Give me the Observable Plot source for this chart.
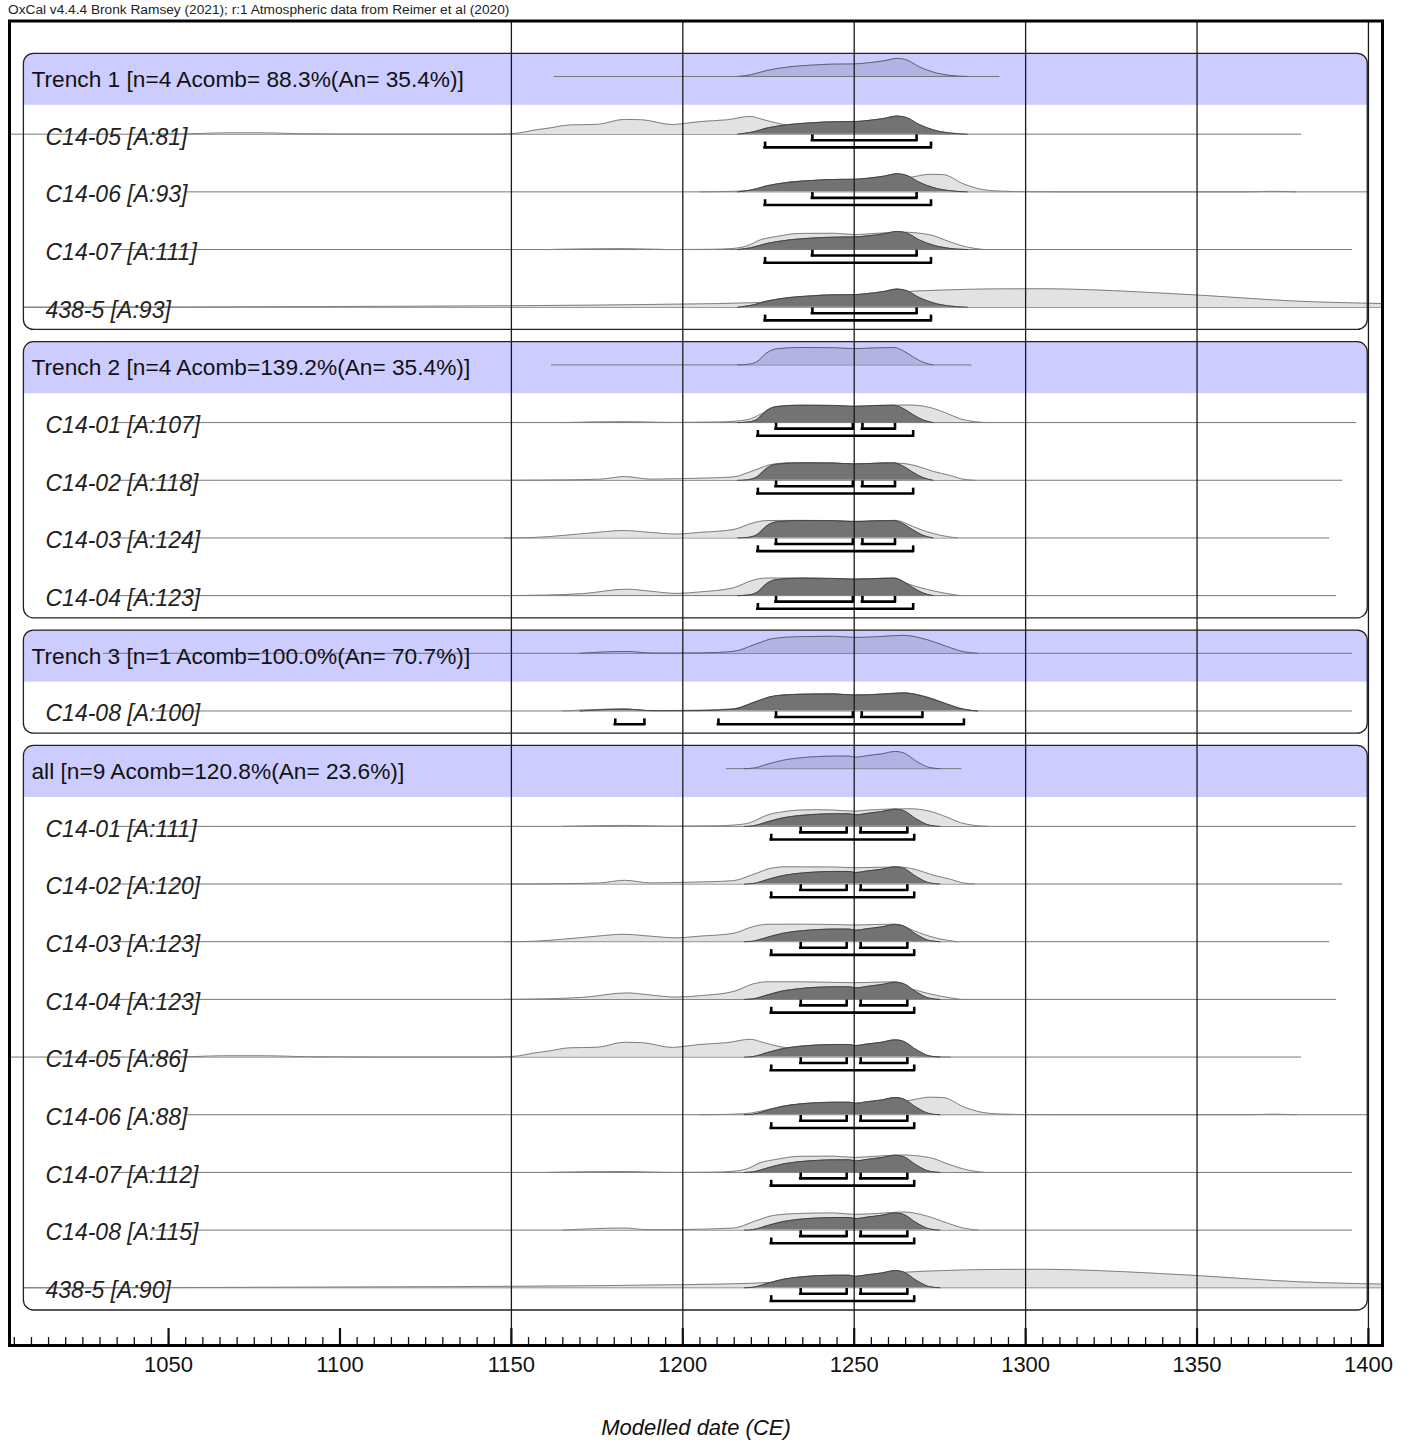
<!DOCTYPE html>
<html><head><meta charset="utf-8">
<script src="https://cdn.jsdelivr.net/npm/d3@7"></script>
<script src="https://cdn.jsdelivr.net/npm/@observablehq/plot@0.6"></script>
<style>
body{margin:0;background:#fff;font-family:"Liberation Sans",Arial,sans-serif;}
#title{height:18px;line-height:20px;font-size:13.7px;padding-left:8px;color:#222;white-space:nowrap;overflow:visible;}
</style></head><body>
<div id="title">OxCal v4.4.4 Bronk Ramsey (2021); r:1 Atmospheric data from Reimer et al (2020)</div>
<div id="chart"></div>
<script>
// ---------- DATA ----------
const rowLabels = [
  "Trench 1 [n=4 Acomb= 88.3%(An= 35.4%)]", "C14-05 [A:81]", "C14-06 [A:93]", "C14-07 [A:111]", "438-5 [A:93]",
  "Trench 2 [n=4 Acomb=139.2%(An= 35.4%)]", "C14-01 [A:107]", "C14-02 [A:118]", "C14-03 [A:124]", "C14-04 [A:123]",
  "Trench 3 [n=1 Acomb=100.0%(An= 70.7%)]", "C14-08 [A:100]",
  "all [n=9 Acomb=120.8%(An= 23.6%)]", "C14-01 [A:111]", "C14-02 [A:120]", "C14-03 [A:123]", "C14-04 [A:123]",
  "C14-05 [A:86]", "C14-06 [A:88]", "C14-07 [A:112]", "C14-08 [A:115]", "438-5 [A:90]"
];
const rowSamples = [null, "C14-05", "C14-06", "C14-07", "438-5", null, "C14-01", "C14-02", "C14-03", "C14-04",
  null, "C14-08", null, "C14-01", "C14-02", "C14-03", "C14-04", "C14-05", "C14-06", "C14-07", "C14-08", "438-5"];
const rowGroups = ["T1","T1","T1","T1","T1","T2","T2","T2","T2","T2","T3","T3",
  "all","all","all","all","all","all","all","all","all","all"];
// extent (years) of each row's distribution line
const rowStart = [1162.5, 1003.6, 1055, 1035, 1007.8, 1161.7, 1035, 1035, 1035, 1035, 1031, 1045,
  1212.7, 1035, 1035, 1035, 1035, 1003.6, 1055, 1035, 1045, 1007.8];
const rowEnd = [1292.5, 1380.5, 1400, 1395.4, 1404, 1284.3, 1396.5, 1392.5, 1388.7, 1390.7, 1395.4, 1395.4,
  1281.4, 1396.5, 1392.5, 1388.7, 1390.7, 1380.5, 1400, 1395.4, 1395.4, 1404];

const groupNames = ["T1", "T2", "T3", "all"];
const groupFirstRow = [0, 5, 10, 12];
const groupLastRow = [4, 9, 11, 21];

// unmodelled likelihoods [year, relative probability]
const lik01 = [[1165,0],[1183,0.05],[1196,0.01],[1210,0.03],[1215,0.07],[1219.7,0.2],[1224.5,0.6],[1229,0.78],[1234,0.88],[1239,0.9],[1244,0.88],[1250,0.82],[1254,0.88],[1260,0.93],[1266,0.95],[1272,0.82],[1277,0.5],[1281,0.2],[1285,0.05],[1289,0]];
const lik02 = [[1150,0],[1165,0.02],[1176,0.06],[1183,0.2],[1190.5,0.06],[1200,0.09],[1214.7,0.18],[1219.7,0.46],[1222.5,0.65],[1225,0.82],[1230,0.93],[1244,0.92],[1250,0.88],[1256,0.9],[1263,0.92],[1268,0.78],[1273,0.48],[1278,0.26],[1282,0.05],[1285,0]];
const lik03 = [[1148,0],[1156,0.02],[1166,0.15],[1175,0.3],[1182.6,0.4],[1190.5,0.3],[1198,0.21],[1205,0.3],[1214.7,0.45],[1220.6,0.82],[1224.5,0.94],[1235,0.95],[1244,0.93],[1250,0.9],[1256,0.93],[1262,0.95],[1267,0.63],[1271,0.35],[1275,0.15],[1280,0]];
const lik04 = [[1148,0],[1160,0.03],[1171,0.11],[1183.7,0.35],[1190.5,0.24],[1198,0.12],[1205,0.2],[1214.7,0.42],[1220.6,0.84],[1224.5,0.95],[1235,0.95],[1250,0.9],[1262,0.95],[1265.3,0.67],[1273,0.26],[1281,0]];
const lik05 = [[1045,0],[1058,0.03],[1066,0.07],[1078,0.07],[1090,0.02],[1110,0],[1146,0],[1152,0.06],[1156,0.2],[1161,0.33],[1167,0.5],[1175,0.53],[1183,0.8],[1188,0.78],[1197,0.52],[1200,0.57],[1205,0.68],[1213,0.78],[1219.7,0.96],[1223.4,0.79],[1228.4,0.56],[1234,0.43],[1244,0.46],[1250,0.46],[1258.5,0.39],[1263,0.2],[1269,0.06],[1278,0]];
const lik06 = [[1205,0],[1215,0.03],[1220,0.09],[1225,0.29],[1234,0.57],[1244,0.58],[1250,0.42],[1256,0.44],[1263,0.66],[1268,0.84],[1272,0.95],[1276,0.93],[1282,0.42],[1287,0.14],[1292.6,0.04],[1300,0.01],[1310,0],[1365,0],[1372,0.03],[1379,0]];
const lik07 = [[1160,0],[1183,0.05],[1196,0],[1208,0.01],[1214.7,0.06],[1218.8,0.2],[1222.6,0.52],[1227.5,0.71],[1234,0.87],[1244,0.88],[1250,0.81],[1256,0.87],[1264,0.94],[1272,0.8],[1278,0.41],[1283,0.13],[1288,0]];
const lik08 = [[1165,0],[1183,0.11],[1190,0.02],[1200,0.03],[1214.7,0.11],[1221.6,0.52],[1226.4,0.79],[1234,0.9],[1244,0.93],[1250,0.85],[1257,0.9],[1264.3,0.98],[1271.2,0.76],[1277,0.39],[1281.8,0.11],[1286,0]];
const lik438 = [[1007.8,0],[1050,0.01],[1100,0.04],[1150,0.08],[1200,0.17],[1220,0.24],[1230,0.33],[1244,0.5],[1255,0.68],[1263,0.82],[1276,0.93],[1290,0.99],[1305,1.0],[1321,0.93],[1336,0.8],[1351,0.65],[1365,0.48],[1380,0.32],[1392,0.25],[1404,0.2]];

// modelled posteriors per group
const postT1 = [[1216,0],[1220,0.1],[1224.6,0.33],[1231,0.52],[1238,0.62],[1244,0.67],[1250,0.68],[1254,0.74],[1259,0.86],[1262.5,0.98],[1265.4,0.89],[1269,0.52],[1273,0.24],[1278,0.06],[1283,0]];
const postT2 = [[1216,0],[1219,0.03],[1221.6,0.17],[1224.5,0.65],[1227.4,0.87],[1234,0.94],[1244,0.93],[1250,0.88],[1256,0.92],[1261.5,0.94],[1264.3,0.76],[1267,0.45],[1270,0.15],[1273,0]];
const postT3 = [[1170,0],[1183,0.1],[1192,0.01],[1205,0.02],[1214.7,0.1],[1221.6,0.52],[1226.4,0.8],[1234,0.9],[1244,0.92],[1250,0.86],[1257,0.9],[1264.3,0.97],[1271.2,0.74],[1277,0.37],[1281.8,0.09],[1286,0]];
const postAll = [[1218,0],[1220.6,0.03],[1224.5,0.23],[1229.3,0.46],[1234,0.58],[1239,0.65],[1244,0.68],[1248.5,0.68],[1250.5,0.62],[1253.6,0.7],[1258,0.8],[1262,0.93],[1264.3,0.86],[1268.3,0.38],[1272,0.06],[1275,0]];

// highest posterior density ranges (68.3% and 95.4%)
const range68T1 = [[1237.8,1268.2]];
const range95T1 = [[1224,1272.4]];
const range68T2 = [[1227.2,1249.6],[1252.4,1261.9]];
const range95T2 = [[1221.9,1267.2]];
const range68T3 = [[1227.2,1249.6],[1252.2,1269.9]];
const range95T3 = [[1180.3,1188.8],[1210.4,1282]];
const range68All = [[1234.4,1247.8],[1251.9,1265.5]];
const range95All = [[1225.8,1267.5]];

const tickLabels = [1050, 1100, 1150, 1200, 1250, 1300, 1350, 1400];
const gridYears = [1150, 1200, 1250, 1300, 1350, 1400];
const minorTicks = d3.range(1005, 1401, 5);

// ---------- BUILD TABLES ----------
const likelihoods = {"C14-01": lik01, "C14-02": lik02, "C14-03": lik03, "C14-04": lik04,
  "C14-05": lik05, "C14-06": lik06, "C14-07": lik07, "C14-08": lik08, "438-5": lik438};
const posteriors = {T1: postT1, T2: postT2, T3: postT3, all: postAll};
const ranges68 = {T1: range68T1, T2: range68T2, T3: range68T3, all: range68All};
const ranges95 = {T1: range95T1, T2: range95T2, T3: range95T3, all: range95All};

const rows = rowLabels.map((label, i) => ({i, label, sample: rowSamples[i], group: rowGroups[i], start: rowStart[i], end: rowEnd[i]}));
const sampleRows = rows.filter(r => r.sample);
const headerRows = rows.filter(r => !r.sample);
const groups = groupNames.map((g, k) => ({g, first: groupFirstRow[k], last: groupLastRow[k]}));

const lightPts = sampleRows.flatMap(r => likelihoods[r.sample].map(([year, p]) => ({row: r.i, year, p})));
const darkPts = sampleRows.flatMap(r => posteriors[r.group].map(([year, p]) => ({row: r.i, year, p})));
const headPts = headerRows.flatMap(r => posteriors[r.group].map(([year, p]) => ({row: r.i, year, p})));

const PX = 1 / 57.68;          // one pixel in row units
const H = 18.5 * PX;            // full height of a distribution
const OFF68 = 6 * PX, OFF95 = 13.2 * PX, TICK = 4 * PX;

const brackets = sampleRows.flatMap(r => [
  ...ranges68[r.group].map(([a, b]) => ({y: r.i + OFF68, a, b})),
  ...ranges95[r.group].map(([a, b]) => ({y: r.i + OFF95, a, b}))
]);
const bracketEnds = brackets.flatMap(d => [{x: d.a, y: d.y}, {x: d.b, y: d.y}]);

const boxLeft = 1007.8, boxRight = 1399.8;
const BOX = 22.7 * PX, BAND = 28.8 * PX;
const yBottom = 22.0007;
const curveTop = d => d.row - d.p * H;

const chart = Plot.plot({
  width: 1411, height: 1424,
  marginLeft: 9, marginRight: 29, marginTop: 2.5, marginBottom: 97,
  x: {domain: [1003.6, 1404.1], axis: null},
  y: {domain: [-0.9622, yBottom], reverse: true, axis: null},
  style: {fontFamily: "'Liberation Sans', Arial, sans-serif", background: "white", color: "#111"},
  marks: [
    // header bands
    Plot.rect(groups, {x1: () => boxLeft, x2: () => boxRight, y1: g => g.first - BOX, y2: g => g.first + BAND * 0.3, fill: "#ccccff", rx: 10}),
    Plot.rect(groups, {x1: () => boxLeft, x2: () => boxRight, y1: g => g.first - BOX * 0.3, y2: g => g.first + BAND, fill: "#ccccff"}),
    // baselines
    Plot.ruleY(rows, {y: "i", x1: "start", x2: "end", stroke: "#777", strokeWidth: 1}),
    // likelihoods
    Plot.areaY(lightPts, {x: "year", y1: "row", y2: curveTop, z: "row", fill: "#e2e2e2", curve: "monotone-x"}),
    Plot.line(lightPts, {x: "year", y: curveTop, z: "row", stroke: "#808080", strokeWidth: 1, curve: "monotone-x"}),
    // posteriors
    Plot.areaY(darkPts, {x: "year", y1: "row", y2: curveTop, z: "row", fill: "#737373", curve: "monotone-x"}),
    Plot.line(darkPts, {x: "year", y: curveTop, z: "row", stroke: "#444", strokeWidth: 1, curve: "monotone-x"}),
    // group distributions
    Plot.areaY(headPts, {x: "year", y1: "row", y2: curveTop, z: "row", fill: "#b3b3e3", curve: "monotone-x"}),
    Plot.line(headPts, {x: "year", y: curveTop, z: "row", stroke: "#5f5f78", strokeWidth: 1, curve: "monotone-x"}),
    // grid
    Plot.ruleX(gridYears, {stroke: "#1a1a1a", strokeWidth: 1.3}),
    // group boxes
    Plot.rect(groups, {x1: () => boxLeft, x2: () => boxRight, y1: g => g.first - BOX, y2: g => g.last + BOX, fill: "none", stroke: "#222", strokeWidth: 1.3, rx: 10}),
    // brackets
    Plot.ruleY(brackets, {y: "y", x1: "a", x2: "b", stroke: "black", strokeWidth: 2.6, strokeLinecap: "square"}),
    Plot.ruleX(bracketEnds, {x: "x", y1: "y", y2: d => d.y - TICK, stroke: "black", strokeWidth: 2.6, strokeLinecap: "square"}),
    // labels
    Plot.text(sampleRows, {y: "i", text: "label", frameAnchor: "left", dx: 36, dy: 3, textAnchor: "start", fontSize: 23, fontStyle: "italic", fill: "#222"}),
    Plot.text(headerRows, {y: "i", text: "label", frameAnchor: "left", dx: 22, dy: 3, textAnchor: "start", fontSize: 22.7, fill: "#111"}),
    // axis ticks
    Plot.ruleX(minorTicks, {x: d => d, y1: () => yBottom, y2: () => yBottom - 8 * PX, stroke: "#111", strokeWidth: 1.3}),
    Plot.ruleX(tickLabels, {x: d => d, y1: () => yBottom, y2: () => yBottom - 17 * PX, stroke: "#111", strokeWidth: 2.2}),
    Plot.axisX(tickLabels, {anchor: "bottom", tickSize: 0, tickPadding: 11, fontSize: 22, tickFormat: d => String(d), label: null, fill: "#111"}),
    Plot.text(["Modelled date (CE)"], {frameAnchor: "bottom", lineAnchor: "middle", dy: 82, fontSize: 22, fontStyle: "italic", fill: "#111"}),
    Plot.frame({stroke: "black", strokeWidth: 3})
  ]
});
document.getElementById("chart").append(chart);
</script></body></html>
